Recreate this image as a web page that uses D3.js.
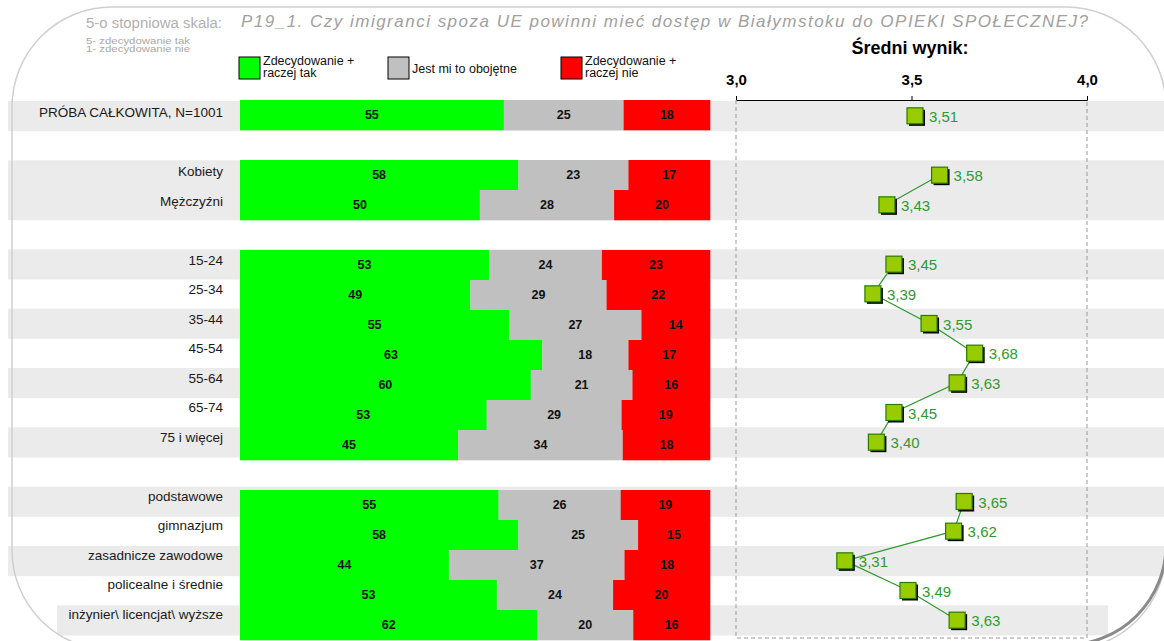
<!DOCTYPE html>
<html><head><meta charset="utf-8">
<script src="https://cdn.jsdelivr.net/npm/d3@7"></script>
<style>
html,body{margin:0;padding:0;background:#fff;}
svg{display:block;font-family:"Liberation Sans",Arial,sans-serif;}
</style></head>
<body><svg id="c" width="1164" height="641"></svg>
<script>
// ---------- data ----------
const categories = ["PRÓBA CAŁKOWITA, N=1001","Kobiety","Mężczyźni","15-24","25-34","35-44","45-54","55-64","65-74","75 i więcej","podstawowe","gimnazjum","zasadnicze zawodowe","policealne i średnie","inżynier\\ licencjat\\ wyższe"];
const slots = [0,2,3,5,6,7,8,9,10,11,13,14,15,16,17];
const groups = [[0],[1,2],[3,4,5,6,7,8,9],[10,11,12,13,14]];
const yesVals = [55,58,50,53,49,55,63,60,53,45,55,58,44,53,62];
const neutralVals = [25,23,28,24,29,27,18,21,29,34,26,25,37,24,20];
const noVals = [18,17,20,23,22,14,17,16,19,18,19,15,18,20,16];
const means = [3.51,3.58,3.43,3.45,3.39,3.55,3.68,3.63,3.45,3.40,3.65,3.62,3.31,3.49,3.63];
const shadedSlots = [0,2,3,5,7,9,11,13,15,17];
const seriesNames = ["Zdecydowanie +\nraczej tak","Jest mi to obojętne","Zdecydowanie +\nraczej nie"];
const seriesColors = ["#00ff00","#c0c0c0","#ff0000"];
const meanTicks = [3.0,3.5,4.0];
const titleText = "P19_1. Czy imigranci spoza UE powinni mieć dostęp w Białymstoku do OPIEKI SPOŁECZNEJ?";

// ---------- scales ----------
const svg = d3.select("#c");
const nSlots = 18;
const yBar = d3.scaleBand().domain(d3.range(nSlots)).range([100,640]);
const yLab = d3.scaleBand().domain(d3.range(nSlots)).range([98,629]);
const yPt  = d3.scaleBand().domain(d3.range(nSlots)).range([101,635]);
const xBar = d3.scaleLinear().domain([0,1]).range([240,710]);
const xMean = d3.scaleLinear().domain([3,4]).range([736,1087]);
const fmt = v => d3.format(".2f")(v).replace(".",",");

// ---------- background bands ----------
const lastSlot = d3.max(slots);
svg.append("g").selectAll("rect").data(shadedSlots).join("rect")
  .attr("x", s => s===lastSlot ? 57 : 8)
  .attr("y", s => yPt(s))
  .attr("width", s => (s===lastSlot ? 1108 : 1164) - (s===lastSlot ? 57 : 8))
  .attr("height", yPt.bandwidth()+0.5)
  .attr("fill","#ebebeb");

// ---------- frame ----------
svg.append("rect").attr("x",12).attr("y",7).attr("width",1154).attr("height",643)
  .attr("rx",100).attr("ry",100).attr("fill","none").attr("stroke","#cfcfcf").attr("stroke-width",1.5);
svg.append("path").attr("d","M1166,545 A100,100 0 0 1 1066,645")
  .attr("fill","none").attr("stroke","#8a8a8a").attr("stroke-width",3);

// ---------- header texts ----------
svg.append("text").attr("x",86).attr("y",28).attr("font-size",14).attr("fill","#b0b0b0")
  .attr("textLength",136).attr("lengthAdjust","spacingAndGlyphs").text("5-o stopniowa skala:");
svg.append("text").attr("x",86).attr("y",44).attr("font-size",9).attr("fill","#a8a8a8")
  .attr("textLength",104).attr("lengthAdjust","spacingAndGlyphs").text("5- zdecydowanie tak");
svg.append("text").attr("x",86).attr("y",52).attr("font-size",9).attr("fill","#a8a8a8")
  .attr("textLength",104).attr("lengthAdjust","spacingAndGlyphs").text("1- zdecydowanie nie");
svg.append("text").attr("x",241).attr("y",27).attr("font-size",17).attr("font-style","italic").attr("fill","#a0a0a0")
  .attr("textLength",847).attr("lengthAdjust","spacing").text(titleText);

// ---------- legend ----------
const legX = [239,388,561];
const lg = svg.append("g").selectAll("g").data(seriesNames).join("g")
  .attr("transform",(d,i)=>`translate(${legX[i]},57)`);
lg.append("rect").attr("width",21).attr("height",22).attr("fill",(d,i)=>seriesColors[i]).attr("stroke","#000").attr("stroke-width",1);
lg.each(function(d){
  const lines = d.split("\n");
  const t = d3.select(this).append("text").attr("font-size",12.5).attr("fill","#111");
  lines.forEach((ln,k)=>{
    t.append("tspan").attr("x",24).attr("y", lines.length===1 ? 16 : 8+k*12).text(ln);
  });
});

// ---------- left labels ----------
svg.append("g").selectAll("text").data(categories).join("text")
  .attr("x",223).attr("y",(d,i)=>yLab(slots[i])+yLab.bandwidth()/2)
  .attr("dy","0.35em").attr("text-anchor","end").attr("font-size",13.5).attr("fill","#1a1a1a")
  .text(d=>d);

// ---------- stacked bars ----------
const rows = categories.map((c,i)=>{
  const vals=[yesVals[i],neutralVals[i],noVals[i]];
  const tot=d3.sum(vals);
  let acc=0;
  return vals.map((v,k)=>{const s={i,k,v,x0:acc/tot,x1:(acc+v)/tot}; acc+=v; return s;});
}).flat();
const gb = svg.append("g");
gb.selectAll("rect").data(rows).join("rect")
  .attr("x",d=>xBar(d.x0)).attr("y",d=>yBar(slots[d.i]))
  .attr("width",d=>xBar(d.x1)-xBar(d.x0)+0.3).attr("height",yBar.bandwidth()+0.3)
  .attr("fill",d=>seriesColors[d.k]);
gb.selectAll("text").data(rows).join("text")
  .attr("x",d=>(xBar(d.x0)+xBar(d.x1))/2).attr("y",d=>yBar(slots[d.i])+yBar.bandwidth()/2)
  .attr("dy","0.35em").attr("text-anchor","middle").attr("font-size",12.5).attr("font-weight","bold").attr("fill","#111")
  .text(d=>d.v);

// ---------- mean panel ----------
const ax = svg.append("g").attr("transform","translate(0,100)")
  .call(d3.axisTop(xMean).tickValues(meanTicks).tickSize(4).tickPadding(11)
    .tickFormat(v=>d3.format(".1f")(v).replace(".",",")));
ax.select(".domain").attr("stroke","#000");
ax.selectAll(".tick line").attr("stroke","#000");
ax.selectAll(".tick text").attr("font-size",15).attr("font-weight","bold").attr("fill","#000")
  .attr("font-family","'Liberation Sans',Arial,sans-serif");
svg.append("text").attr("x",910).attr("y",54).attr("text-anchor","middle").attr("font-size",18).attr("font-weight","bold").attr("fill","#000").text("Średni wynik:");

const dashG = svg.append("g").attr("stroke","#999").attr("stroke-dasharray","4,3").attr("stroke-width",1).attr("fill","none");
dashG.append("path").attr("d",`M${xMean(3)},100 V638 H${xMean(4)} V100`);

const cy = i => yPt(slots[i])+yPt.bandwidth()/2;
const line = d3.line().x(i=>xMean(means[i])).y(i=>cy(i));
svg.append("g").selectAll("path").data(groups.filter(g=>g.length>1)).join("path")
  .attr("d",line).attr("fill","none").attr("stroke","#2f9a2f").attr("stroke-width",1.2);

const mk = svg.append("g").selectAll("g").data(means).join("g")
  .attr("transform",(d,i)=>`translate(${xMean(d)},${cy(i)})`);
mk.append("rect").attr("x",-6).attr("y",-6).attr("width",16).attr("height",16).attr("fill","#000");
mk.append("rect").attr("x",-8).attr("y",-8).attr("width",16).attr("height",16).attr("fill","#99cc00").attr("stroke","#2a7a00").attr("stroke-width",1.2);
mk.append("text").attr("x",14).attr("y",1).attr("dy","0.35em").attr("font-size",15).attr("fill","#2f9a2f").text(d=>fmt(d));
</script></body></html>
